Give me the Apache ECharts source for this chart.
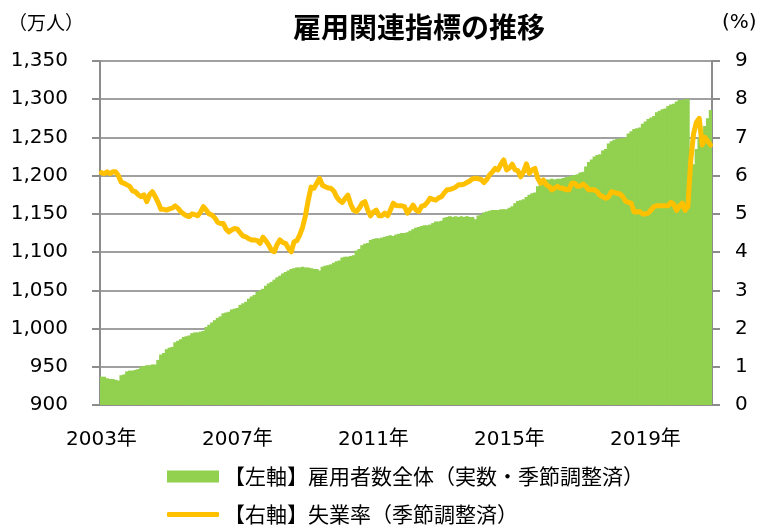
<!DOCTYPE html>
<html>
<head>
<meta charset="utf-8">
<script src="https://cdn.jsdelivr.net/npm/echarts@6/dist/echarts.min.js"></script>
<style>
  html, body { margin: 0; padding: 0; background: #fff; }
  #chart { width: 766px; height: 526px; }
</style>
</head>
<body>
<div id="chart"></div>
<script>
// 月次データ 2003年1月〜2020年12月
const startYear = 2003;
const tickLabels = ['2003年', '2007年', '2011年', '2015年', '2019年'];

// 雇用者数全体（万人）
const employed = [
  937, 937, 935, 934, 934, 933, 932, 939, 940, 944, 945, 945,
  946, 947, 950, 951, 952, 952, 953, 953, 959, 966, 968, 973,
  975, 976, 982, 984, 986, 989, 990, 991, 994, 995, 995, 996,
  997, 1002, 1005, 1008, 1011, 1014, 1016, 1020, 1021, 1022, 1025, 1026,
  1027, 1031, 1033, 1035, 1039, 1042, 1044, 1048, 1050, 1052, 1056, 1059,
  1061, 1064, 1067, 1069, 1072, 1074, 1076, 1078, 1079, 1080, 1080, 1081,
  1080, 1080, 1079, 1078, 1078, 1076, 1081, 1082, 1083, 1084, 1086, 1088,
  1089, 1093, 1094, 1094, 1095, 1096, 1102, 1104, 1109, 1111, 1112, 1116,
  1117, 1118, 1118, 1119, 1120, 1121, 1122, 1121, 1123, 1124, 1125, 1125,
  1126, 1128, 1130, 1132, 1133, 1134, 1135, 1135, 1136, 1138, 1140, 1140,
  1141, 1145, 1146, 1147, 1146, 1147, 1146, 1147, 1146, 1147, 1146, 1146,
  1143, 1148, 1149, 1152, 1153, 1154, 1155, 1155, 1155, 1156, 1156, 1156,
  1158, 1160, 1164, 1167, 1168, 1169, 1172, 1175, 1177, 1178, 1186, 1193,
  1194, 1195, 1195, 1196, 1195, 1196, 1196, 1197, 1198, 1199, 1200, 1201,
  1202, 1204, 1205, 1212, 1218, 1221, 1225, 1227, 1228, 1233, 1235, 1242,
  1245, 1247, 1248, 1249, 1249, 1250, 1255, 1258, 1261, 1262, 1263, 1268,
  1271, 1274, 1276, 1278, 1283, 1285, 1287, 1288, 1291, 1293, 1294, 1297,
  1299, 1299, 1300, 1300, 1235, 1215, 1235, 1250, 1258, 1265, 1275, 1286
];

// 失業率（%）
const unemployment = [
  6.08, 6.05, 6.1, 6.05, 6.1, 6.1, 6.0, 5.83, 5.8, 5.76, 5.72, 5.6,
  5.58, 5.5, 5.45, 5.5, 5.32, 5.5, 5.58, 5.45, 5.3, 5.12, 5.12, 5.1,
  5.13, 5.15, 5.21, 5.15, 5.06, 5.0, 4.95, 4.93, 5.0, 4.98, 4.95, 5.05,
  5.19, 5.1, 5.0, 4.97, 4.9, 4.78, 4.75, 4.75, 4.6, 4.53, 4.58, 4.62,
  4.6, 4.5, 4.42, 4.4, 4.35, 4.32, 4.32, 4.3, 4.23, 4.39, 4.3, 4.19,
  4.05, 4.01, 4.2, 4.32, 4.25, 4.23, 4.1, 4.01, 4.27, 4.3, 4.45, 4.65,
  4.95, 5.36, 5.7, 5.67, 5.8, 5.93, 5.75, 5.71, 5.68, 5.67, 5.6, 5.45,
  5.35, 5.3, 5.4, 5.49, 5.25, 5.1, 5.06, 5.15, 5.28, 5.32, 5.1, 4.95,
  5.05, 5.1, 4.95, 4.95, 5.02, 4.95, 5.1, 5.28, 5.22, 5.21, 5.21, 5.19,
  5.02, 5.12, 5.23, 5.1, 5.06, 5.2, 5.22, 5.3, 5.41, 5.38, 5.36, 5.42,
  5.45, 5.55, 5.63, 5.64, 5.66, 5.7, 5.76, 5.76, 5.78, 5.82, 5.86, 5.92,
  5.93, 5.92, 5.9, 5.82, 5.9, 6.02, 6.1, 6.19, 6.15, 6.3, 6.41, 6.15,
  6.2, 6.3, 6.15, 6.13, 5.97, 6.1, 6.31, 6.06, 6.15, 6.19, 5.93, 5.8,
  5.89, 5.76, 5.72, 5.63, 5.68, 5.72, 5.67, 5.67, 5.63, 5.63, 5.8, 5.8,
  5.72, 5.73, 5.78, 5.72, 5.63, 5.63, 5.63, 5.58, 5.48, 5.45, 5.41, 5.45,
  5.58, 5.56, 5.54, 5.52, 5.45, 5.33, 5.3, 5.28, 5.05, 5.05, 5.06, 5.0,
  5.0, 5.02, 5.1, 5.19, 5.21, 5.21, 5.21, 5.21, 5.21, 5.3, 5.25, 5.09,
  5.2, 5.28, 5.09, 5.2, 6.4, 7.1, 7.4, 7.5, 6.8, 7.0, 6.9, 6.8
];

const months = employed.map((_, i) => (startYear + Math.floor(i / 12)) + '/' + (i % 12 + 1));

const barName = '【左軸】雇用者数全体（実数・季節調整済）';
const lineName = '【右軸】失業率（季節調整済）';

const numFont = "'DejaVu Sans', 'Noto Sans CJK JP', sans-serif";
const jpFont = "'Noto Sans CJK JP', sans-serif";
const gridColor = '#a0a0a0';
const axisColor = '#8c8c8c';
const isTick = (i) => i % 48 === 0;
const legendText = { fontSize: 21, color: '#000', fontFamily: jpFont };

const myChart = echarts.init(document.getElementById('chart'));

const option = {
  backgroundColor: '#fff',
  animation: false,
  title: {
    text: '雇用関連指標の推移',
    left: 288,
    top: 8,
    textStyle: { fontSize: 28, fontWeight: 'bold', color: '#000', fontFamily: jpFont }
  },
  graphic: [
    { type: 'text', left: 8, top: 13, style: { text: '（万人）', fontSize: 19, fill: '#000', fontFamily: jpFont } },
    { type: 'text', left: 722, top: 13, style: { text: '(%)', fontSize: 20, fill: '#000', fontFamily: numFont } }
  ],
  legend: [
    {
      left: 162,
      top: 461,
      itemWidth: 52,
      itemHeight: 12,
      textStyle: legendText,
      data: [{ name: barName, icon: 'rect' }]
    },
    {
      left: 162,
      top: 499,
      itemWidth: 52,
      itemHeight: 5,
      textStyle: legendText,
      data: [{ name: lineName, icon: 'roundRect' }]
    }
  ],
  grid: { left: 100, right: 54, top: 61, bottom: 121 },
  xAxis: {
    type: 'category',
    data: months,
    boundaryGap: true,
    axisLine: { lineStyle: { color: axisColor, width: 2 } },
    axisTick: { interval: isTick, length: 8, lineStyle: { color: axisColor, width: 2 } },
    axisLabel: {
      interval: isTick,
      margin: 25,
      fontSize: 20,
      color: '#000',
      fontFamily: numFont,
      formatter: (v, i) => tickLabels[i / 48]
    },
    splitLine: { show: false }
  },
  yAxis: [
    {
      type: 'value',
      min: 900,
      max: 1350,
      interval: 50,
      axisLine: { show: true, lineStyle: { color: axisColor, width: 2 } },
      axisTick: { show: true, length: 8, lineStyle: { color: axisColor, width: 2 } },
      axisLabel: {
        margin: 32,
        fontSize: 20,
        color: '#000',
        fontFamily: numFont,
        formatter: (v) => v.toLocaleString('en-US')
      },
      splitLine: { lineStyle: { color: gridColor, width: 2 } }
    },
    {
      type: 'value',
      min: 0,
      max: 9,
      interval: 1,
      axisLine: { show: true, lineStyle: { color: axisColor, width: 2 } },
      axisTick: { show: true, length: 8, lineStyle: { color: axisColor, width: 2 } },
      axisLabel: { margin: 23, fontSize: 20, color: '#000', fontFamily: numFont },
      splitLine: { show: false }
    }
  ],
  series: [
    {
      name: barName,
      type: 'bar',
      yAxisIndex: 0,
      barWidth: 3.6,
      itemStyle: { color: '#92d050' },
      data: employed
    },
    {
      name: lineName,
      type: 'line',
      yAxisIndex: 1,
      symbol: 'none',
      lineStyle: { color: '#ffc000', width: 5, cap: 'round', join: 'round' },
      itemStyle: { color: '#ffc000' },
      data: unemployment
    }
  ]
};

option && myChart.setOption(option);
</script>
</body>
</html>
